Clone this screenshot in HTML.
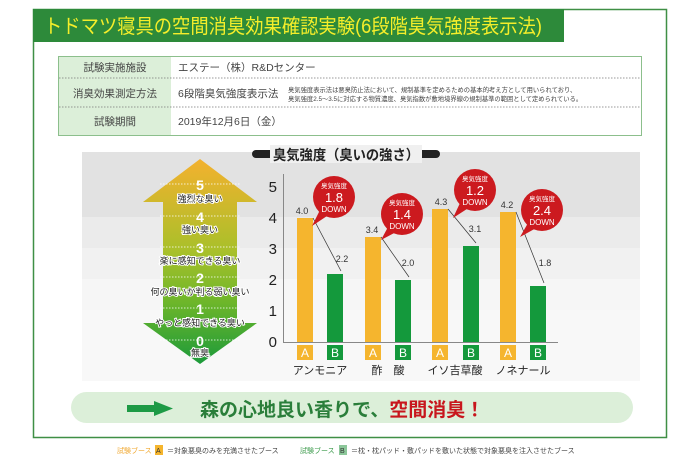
<!DOCTYPE html>
<html><head><meta charset="utf-8"><style>
html,body{margin:0;padding:0;background:#fff;}
svg text{font-family:"Liberation Sans","Noto Sans CJK JP",sans-serif;}
</style></head><body>
<svg width="700" height="467" viewBox="0 0 700 467" xmlns="http://www.w3.org/2000/svg">
<defs>
<linearGradient id="ag" x1="0" y1="0" x2="0" y2="1">
<stop offset="0" stop-color="#f3b12e"/><stop offset="0.45" stop-color="#a9c02a"/><stop offset="0.7" stop-color="#6db62a"/><stop offset="1" stop-color="#1c9a3a"/>
</linearGradient>
</defs>
<rect x="33.5" y="9.5" width="633" height="428" fill="#fff" stroke="#3f8f45" stroke-width="1.5"/>
<rect x="33" y="9" width="531" height="33" fill="#2d8a3a"/>
<text x="44" y="33" font-size="20" fill="#f5ee2a" textLength="498" lengthAdjust="spacingAndGlyphs">トドマツ寝具の空間消臭効果確認実験(6段階臭気強度表示法)</text>
<rect x="58.5" y="56.5" width="583" height="79" fill="#fff" stroke="#8cbf8c"/>
<rect x="59" y="57" width="112" height="78" fill="#dcefd9"/>
<line x1="59" y1="78" x2="641" y2="78" stroke="#777" stroke-dasharray="1.5,1.5" stroke-width="0.7"/>
<line x1="59" y1="107" x2="641" y2="107" stroke="#777" stroke-dasharray="1.5,1.5" stroke-width="0.7"/>
<g font-size="10.5" fill="#444">
<text x="115" y="71" text-anchor="middle">試験実施施設</text>
<text x="115" y="97" text-anchor="middle">消臭効果測定方法</text>
<text x="115" y="125" text-anchor="middle">試験期間</text>
<text x="178" y="71">エステー（株）R&amp;Dセンター</text>
<text x="178" y="97">6段階臭気強度表示法</text>
<text x="178" y="125">2019年12月6日（金）</text>
</g>
<text x="288" y="92" font-size="6.3" fill="#444">臭気強度表示法は悪臭防止法において、規制基準を定めるための基本的考え方として用いられており、</text>
<text x="288" y="101" font-size="6.3" fill="#444">臭気強度2.5～3.5に対応する物質濃度、臭気指数が敷地境界線の規制基準の範囲として定められている。</text>
<rect x="82" y="152" width="558" height="229" fill="#f8f8f8"/>
<rect x="82" y="152" width="558" height="65" fill="#e2e2e2"/>
<rect x="82" y="217" width="558" height="31" fill="#ebebeb"/>
<rect x="82" y="248" width="558" height="31" fill="#f1f1f1"/>
<rect x="82" y="279" width="558" height="31" fill="#f6f6f6"/>
<rect x="252" y="150" width="188" height="8" rx="4" fill="#222"/>
<rect x="270" y="145" width="152" height="18" fill="#f0f0f0"/>
<text x="346" y="160" font-size="14" font-weight="bold" text-anchor="middle" fill="#222" textLength="146" lengthAdjust="spacingAndGlyphs">臭気強度（臭いの強さ）</text>
<polygon points="200,159 257,202 237,202 237,323 257,323 200,364 143,323 163,323 163,202 143,202" fill="url(#ag)"/>
<g stroke="#fff" stroke-dasharray="1.5,1.5" stroke-width="0.8">
<line x1="160" y1="184" x2="240" y2="184"/><line x1="160" y1="216" x2="240" y2="216"/>
<line x1="160" y1="247" x2="240" y2="247"/><line x1="160" y1="277" x2="240" y2="277"/>
<line x1="160" y1="308" x2="240" y2="308"/><line x1="160" y1="340" x2="240" y2="340"/>
</g>
<g font-size="14" fill="#fff" text-anchor="middle" font-weight="bold">
<text x="200" y="190">5</text><text x="200" y="222">4</text><text x="200" y="253">3</text>
<text x="200" y="283">2</text><text x="200" y="314">1</text><text x="200" y="346">0</text>
</g>
<g font-size="9" fill="#222" text-anchor="middle" stroke="#fff" stroke-width="2" paint-order="stroke">
<text x="200" y="202">強烈な臭い</text><text x="200" y="233">強い臭い</text>
<text x="200" y="264">楽に感知できる臭い</text><text x="200" y="295">何の臭いか判る弱い臭い</text>
<text x="200" y="326">やっと感知できる臭い</text><text x="200" y="356">無臭</text>
</g>
<line x1="283.5" y1="174" x2="283.5" y2="342" stroke="#888"/>
<line x1="283" y1="342.5" x2="558" y2="342.5" stroke="#888"/>
<g font-size="15" fill="#222" text-anchor="end">
<text x="277" y="192">5</text><text x="277" y="223">4</text><text x="277" y="254">3</text>
<text x="277" y="285">2</text><text x="277" y="316">1</text><text x="277" y="347">0</text>
</g>
<g fill="#f5b52e">
<rect x="297" y="218" width="16" height="124"/><rect x="365" y="237" width="16" height="105"/>
<rect x="432" y="209" width="16" height="133"/><rect x="500" y="212" width="16" height="130"/>
</g>
<g fill="#14993c">
<rect x="327" y="274" width="16" height="68"/><rect x="395" y="280" width="16" height="62"/>
<rect x="463" y="246" width="16" height="96"/><rect x="530" y="286" width="16" height="56"/>
</g>
<g font-size="9" fill="#333" text-anchor="middle">
<text x="302" y="214">4.0</text><text x="372" y="233">3.4</text><text x="441" y="205">4.3</text><text x="507" y="208">4.2</text>
<text x="342" y="262">2.2</text><text x="408" y="266">2.0</text><text x="475" y="232">3.1</text><text x="545" y="266">1.8</text>
</g>
<g stroke="#333" stroke-width="0.7" fill="none">
<line x1="313" y1="218" x2="341" y2="271"/><line x1="381" y1="237" x2="409" y2="277"/>
<line x1="448" y1="209" x2="476" y2="243"/><line x1="516" y1="212" x2="544" y2="283"/>
</g>
<g fill="#cc1a1f">
<circle cx="334" cy="197" r="21"/><polygon points="320,210 312,226 330,214"/>
<circle cx="402" cy="214" r="21"/><polygon points="388,227 381,240 398,231"/>
<circle cx="475" cy="190" r="21"/><polygon points="460,203 453,218 470,207"/>
<circle cx="542" cy="210" r="21"/><polygon points="528,223 520,237 538,227"/>
</g>
<g fill="#fff" text-anchor="middle">
<text x="334" y="188" font-size="6.5">臭気強度</text><text x="334" y="202" font-size="13">1.8</text><text x="334" y="212" font-size="8">DOWN</text>
<text x="402" y="205" font-size="6.5">臭気強度</text><text x="402" y="219" font-size="13">1.4</text><text x="402" y="229" font-size="8">DOWN</text>
<text x="475" y="181" font-size="6.5">臭気強度</text><text x="475" y="195" font-size="13">1.2</text><text x="475" y="205" font-size="8">DOWN</text>
<text x="542" y="201" font-size="6.5">臭気強度</text><text x="542" y="215" font-size="13">2.4</text><text x="542" y="225" font-size="8">DOWN</text>
</g>
<g fill="#f5b52e"><rect x="297" y="345" width="16" height="15"/><rect x="365" y="345" width="16" height="15"/><rect x="432" y="345" width="16" height="15"/><rect x="500" y="345" width="16" height="15"/></g>
<g fill="#14993c"><rect x="327" y="345" width="16" height="15"/><rect x="395" y="345" width="16" height="15"/><rect x="463" y="345" width="16" height="15"/><rect x="530" y="345" width="16" height="15"/></g>
<g fill="#fff" font-size="12" text-anchor="middle">
<text x="305" y="357">A</text><text x="373" y="357">A</text><text x="440" y="357">A</text><text x="508" y="357">A</text>
<text x="335" y="357">B</text><text x="403" y="357">B</text><text x="471" y="357">B</text><text x="538" y="357">B</text>
</g>
<g font-size="11" fill="#222" text-anchor="middle">
<text x="320" y="374">アンモニア</text><text x="388" y="374">酢　酸</text><text x="455" y="374">イソ吉草酸</text><text x="523" y="374">ノネナール</text>
</g>
<rect x="71" y="392" width="562" height="31" rx="15.5" fill="#dcefd9"/>
<rect x="127" y="405" width="28" height="7" fill="#1d9a45"/>
<polygon points="154,401 173,408.5 154,416" fill="#1d9a45"/>
<text x="200" y="416" font-size="19" font-weight="bold" fill="#2a7e3a">森の心地良い香りで、<tspan fill="#c8161d">空間消臭！</tspan></text>
<g font-size="7">
<text x="117" y="453" fill="#f0a830">試験ブース</text>
<rect x="155" y="445" width="8" height="10" fill="#f5b52e"/><text x="156" y="453" fill="#333">A</text>
<text x="167" y="453" fill="#444">＝対象悪臭のみを充満させたブース</text>
<text x="300" y="453" fill="#3a9a4a">試験ブース</text>
<rect x="339" y="445" width="8" height="10" fill="#8cc79a"/><text x="340" y="453" fill="#333">B</text>
<text x="351" y="453" fill="#444">＝枕・枕パッド・敷パッドを敷いた状態で対象悪臭を注入させたブース</text>
</g>
</svg>
</body></html>
